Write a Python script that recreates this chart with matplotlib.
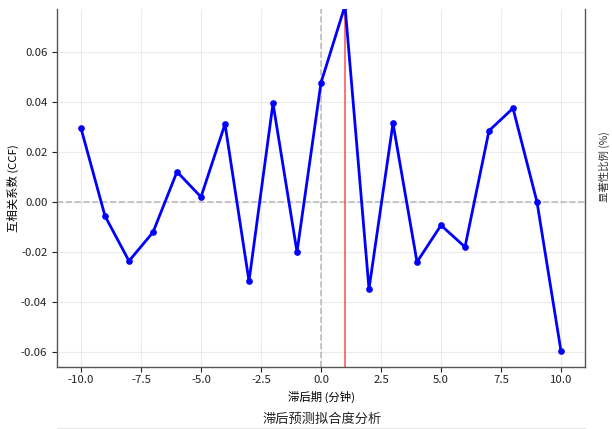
import matplotlib
matplotlib.use("Agg")
import matplotlib.pyplot as plt
from matplotlib.lines import Line2D

plt.rcParams['font.family'] = ['Noto Sans CJK SC', 'DejaVu Sans']
plt.rcParams['axes.unicode_minus'] = False

lags = [-10, -9, -8, -7, -6, -5, -4, -3, -2, -1, 0, 1, 2, 3, 4, 5, 6, 7, 8, 9, 10]
ccf = [0.0295, -0.0056, -0.0236, -0.0121, 0.0121, 0.0020, 0.0312, -0.0317,
       0.0395, -0.0200, 0.0477, 0.0785, -0.0348, 0.0315, -0.0240, -0.0093,
       -0.0180, 0.0285, 0.0375, 0.0000, -0.0597]
best_lag = 1
yticks = [-0.06, -0.04, -0.02, 0.00, 0.02, 0.04, 0.06]

fig = plt.figure(figsize=(6.12, 4.29), dpi=100)
ax = fig.add_axes([57/612, 1-367/429, (585-57)/612, (367-9)/429])

ax.grid(True, color='#e3e3e3', linewidth=0.8, alpha=0.7)
ax.set_axisbelow(True)
ax.axhline(0, color='#b0b0b0', linestyle='--', linewidth=1.2, alpha=0.8)
ax.axvline(0, color='#b0b0b0', linestyle='--', linewidth=1.2, alpha=0.8)
ax.axvline(best_lag, color='#ff2222', linewidth=1.1, alpha=0.8)
ax.plot(lags, ccf, color='#0000ff', linewidth=2, marker='o', markersize=3.8)

ax.set_xlim(-11, 11)
ax.set_ylim(-0.066, 0.0772)
ax.set_yticks(yticks)
ax.set_yticklabels([f"{v:.2f}" for v in yticks])
ax.tick_params(labelsize=8.2, colors='#222222', length=3.5)
ax.tick_params(axis='x', pad=2.5)
ax.set_xlabel('滞后期 (分钟)', fontsize=8.2)
ax.set_ylabel('互相关系数 (CCF)', fontsize=8.2)
ax.xaxis.set_label_coords(0.5, (367-397)/358, transform=ax.transAxes)
ax.yaxis.set_label_coords((13-57)/528, 0.5, transform=ax.transAxes)
ax.xaxis.label.set_va('center')
ax.yaxis.label.set_va('center')

for s in ['left', 'bottom', 'right']:
    ax.spines[s].set_color('#555555')
    ax.spines[s].set_linewidth(1.0)
ax.spines['top'].set_visible(False)

fig.text(604/612, 1-167/429, '显著性比例 (%)', rotation=90, fontsize=7.5,
         ha='center', va='center', color='#333333')
fig.text(322/612, 1-419/429, '滞后预测拟合度分析', fontsize=9.5,
         ha='center', va='center', color='#222222')
fig.add_artist(Line2D([57/612, 585/612], [1-428/429, 1-428/429],
                      transform=fig.transFigure, color='#e6e6e6', linewidth=0.8))

fig.savefig('out.png', dpi=100)
